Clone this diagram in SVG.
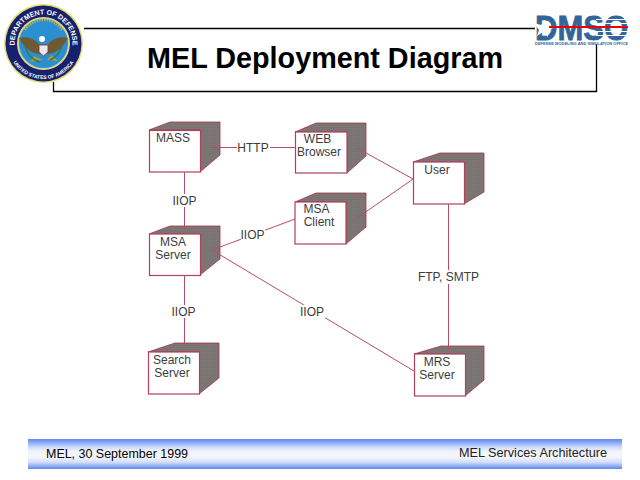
<svg xmlns="http://www.w3.org/2000/svg" width="640" height="480" viewBox="0 0 640 480">
<style>
text{font-family:"Liberation Sans",Arial,sans-serif}
.front{fill:#fff;stroke:#b0405c;stroke-width:1.2}
.side{fill:url(#dither);stroke:#a8324f;stroke-width:0.8}
.nl{font-size:12px;fill:#3c3c3c;text-anchor:middle}
.cl{font-size:12px;fill:#3c3c3c;text-anchor:middle}
.c{stroke:#b84c68;stroke-width:1;fill:none}
.frame{stroke:#000;stroke-width:1.3;fill:none}
</style>
<defs>
<pattern id="dither" width="2" height="2" patternUnits="userSpaceOnUse">
<rect width="2" height="2" fill="#747a70"/>
<rect width="1" height="1" fill="#84747a"/>
<rect x="1" y="1" width="1" height="1" fill="#6c7474"/>
</pattern>
<linearGradient id="bar" x1="0" y1="0" x2="0" y2="1">
<stop offset="0" stop-color="#5f86f2"/>
<stop offset="0.28" stop-color="#cfdcfa"/>
<stop offset="0.42" stop-color="#f4f5fb"/>
<stop offset="0.62" stop-color="#f4f5fb"/>
<stop offset="0.78" stop-color="#cfdcfa"/>
<stop offset="1" stop-color="#5f86f2"/>
</linearGradient>
<path id="arcTop" d="M16.250 53.400A29 29 0 1 1 70.750 53.400"/>
<path id="arcBottom" d="M8 43.500A35.500 35.500 0 0 0 79 43.500"/>
</defs>
<rect width="640" height="480" fill="#fff"/>

<g id="title-frame">
<path class="frame" d="M84 28.500H535M596.500 44V91.500H53.500V82"/>
<text x="325" y="68" font-size="29" font-weight="700" text-anchor="middle" textLength="356" lengthAdjust="spacingAndGlyphs" fill="#000">MEL Deployment Diagram</text>
</g>

<g id="dod-seal">
<circle cx="43.500" cy="43.500" r="39.500" fill="#e5dc6a"/>
<circle cx="43.500" cy="43.500" r="38" fill="#15206e"/>
<circle cx="43.500" cy="43.500" r="26.500" fill="#d9d58a"/>
<circle cx="43.500" cy="43.500" r="24.500" fill="#2a8fd0"/>
<text font-size="7" font-weight="700" fill="#fff" font-family="Liberation Serif,serif"><textPath href="#arcTop" startOffset="50%" text-anchor="middle">DEPARTMENT OF DEFENSE</textPath></text>
<text font-size="5" font-weight="700" fill="#fff" font-family="Liberation Serif,serif"><textPath href="#arcBottom" startOffset="50%" text-anchor="middle">UNITED STATES OF AMERICA</textPath></text>
<path d="M25 30A22 22 0 0 1 62 30" fill="none" stroke="#b5ad55" stroke-width="2.500" stroke-dasharray="1.500 1"/>
<path d="M19 38C26 36 34 38 39 44L40 54C32 54 24 48 19 38ZM68 38C61 36 53 38 48 44L47 54C55 54 63 48 68 38Z" fill="#6d5a35"/>
<path d="M39 45H48V52L43.500 56L39 52Z" fill="#e8e8e8" stroke="#a02030" stroke-width="0.800"/>
<circle cx="42" cy="39" r="3" fill="#fff"/>
<path d="M34 56L43 60L30 62ZM51 55L58 61L47 60Z" fill="#a89a50"/>
<path d="M25 44A20 20 0 0 0 40 62M62 44A20 20 0 0 1 50 60" fill="none" stroke="#3a7a40" stroke-width="1.500"/>
</g>

<g id="dmso-logo">
<text x="535" y="40" font-size="35" font-weight="700" fill="#33659b" stroke="#33659b" stroke-width="0.800" textLength="93" lengthAdjust="spacingAndGlyphs">DMSO</text>
<path d="M596 19.500H628M596 23.500H628M596 31.500H628M596 35.500H628" stroke="#fff" stroke-width="1"/>
<polygon points="534,23 541,25 545,20 547,26 556,27 548,30 548,37 543,32 537,36 539,30" fill="#fff"/>
<rect x="549" y="26" width="79" height="2" fill="#ee0000"/>
<text x="535" y="45" font-size="4" font-weight="700" fill="#33659b" textLength="93" lengthAdjust="spacing">DEFENSE MODELING AND SIMULATION OFFICE</text>
</g>

<g id="node-mass">
<polygon class="side" points="149,130 170,122 220,122 220,155 200,172 200,130"/>
<rect class="front" x="149.500" y="130.500" width="51" height="41.500"/>
<text class="nl" x="173" y="142">MASS</text>
</g>
<g id="node-web-browser">
<polygon class="side" points="295,132 316,123 366,123 366,156 347,173 347,132"/>
<rect class="front" x="295.500" y="132" width="51.500" height="41"/>
<text class="nl" x="317.500" y="143">WEB</text>
<text class="nl" x="319" y="156">Browser</text>
</g>
<g id="node-msa-client">
<polygon class="side" points="295,202 316,193 366,193 366,227 346,244 346,202"/>
<rect class="front" x="295" y="202" width="51" height="42"/>
<text class="nl" x="316.500" y="213">MSA</text>
<text class="nl" x="319" y="226">Client</text>
</g>
<g id="node-msa-server">
<polygon class="side" points="149,234 170,226 220,226 220,259 200,275 200,234"/>
<rect class="front" x="149.500" y="234" width="51" height="41.500"/>
<text class="nl" x="173" y="246">MSA</text>
<text class="nl" x="173" y="259">Server</text>
</g>
<g id="node-user">
<polygon class="side" points="413,162 440,153 484,153 484,192 464,204 464,162"/>
<rect class="front" x="413.500" y="162" width="51" height="42"/>
<text class="nl" x="437" y="174">User</text>
</g>
<g id="node-search-server">
<polygon class="side" points="148,352 175,343 219,343 219,378 199,394 199,352"/>
<rect class="front" x="148.500" y="352" width="51" height="42"/>
<text class="nl" x="172" y="364">Search</text>
<text class="nl" x="172" y="377">Server</text>
</g>
<g id="node-mrs-server">
<polygon class="side" points="414,354 441,346 484,346 484,380 465,396 465,354"/>
<rect class="front" x="414.500" y="354" width="51" height="42"/>
<text class="nl" x="437" y="366">MRS</text>
<text class="nl" x="437" y="379">Server</text>
</g>

<g id="connectors">
<path class="c" d="M212 147.500H295"/>
<path class="c" d="M184.500 172V230"/>
<path class="c" d="M212 250L295 219"/>
<path class="c" d="M212 250L414 371"/>
<path class="c" d="M184.500 275V345"/>
<path class="c" d="M357 148L413 179"/>
<path class="c" d="M357 218L413 179"/>
<path class="c" d="M448.500 204V350"/>
<rect x="237" y="140" width="33" height="15" fill="#fff"/>
<text class="cl" x="253" y="152">HTTP</text>
<rect x="172" y="194" width="25" height="13" fill="#fff"/>
<text class="cl" x="184.500" y="205">IIOP</text>
<rect x="241" y="228" width="24" height="13" fill="#fff"/>
<text class="cl" x="252.500" y="239">IIOP</text>
<rect x="171" y="305" width="25" height="13" fill="#fff"/>
<text class="cl" x="183.500" y="316">IIOP</text>
<rect x="300" y="305" width="25" height="13" fill="#fff"/>
<text class="cl" x="312" y="316">IIOP</text>
<rect x="416" y="270" width="65" height="14" fill="#fff"/>
<text class="cl" x="448.500" y="281">FTP, SMTP</text>
</g>

<g id="footer">
<rect x="28" y="439" width="594" height="30" fill="url(#bar)"/>
<text x="46" y="458" font-size="13" fill="#000" textLength="142" lengthAdjust="spacingAndGlyphs">MEL, 30 September 1999</text>
<text x="459" y="457" font-size="13" fill="#222" textLength="148" lengthAdjust="spacingAndGlyphs">MEL Services Architecture</text>
</g>
</svg>
